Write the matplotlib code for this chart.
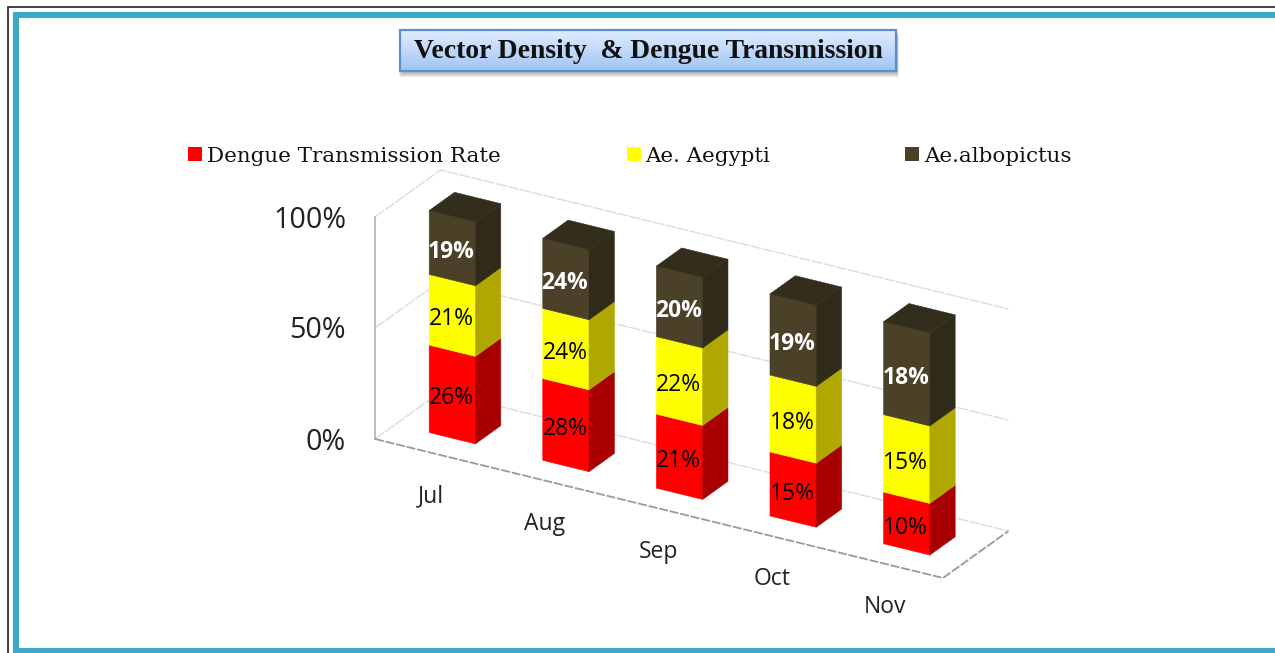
import numpy as np
import matplotlib
matplotlib.use("Agg")
import matplotlib.pyplot as plt
from matplotlib.patches import Polygon, Rectangle

# ---- data ----
months = ["Jul", "Aug", "Sep", "Oct", "Nov"]
series_names = ["Dengue Transmission Rate", "Ae. Aegypti", "Ae.albopictus"]
dengue = [26, 28, 21, 15, 10]
aegypti = [21, 24, 22, 18, 15]
albopictus = [19, 24, 20, 19, 18]
y_ticks = [0, 50, 100]
title = "Vector Density  & Dengue Transmission"

front_cols = ["#FF0000", "#FFFF00", "#4A4128"]
side_cols = ["#A80000", "#B0A800", "#2F2A1A"]
top_col = "#332E1C"
label_cols = ["black", "black", "white"]
label_weight = ["normal", "normal", "bold"]

fig = plt.figure(figsize=(12.75, 6.53), dpi=100)
ax = fig.add_axes([0, 0, 1, 1])
ax.set_xlim(0, 1275)
ax.set_ylim(653, 0)
ax.axis("off")

# oblique projection: category position, depth fraction, 0-1 stack fraction -> pixels
def proj(x, d, z):
    return (375 + x * 113.6 + d * 65.5, 439 + x * 27.8 - d * 47 - z * 222)

# ---- frame ----
ax.add_patch(Rectangle((7.5, 7), 1300, 700, fc="white", ec="#222222", lw=1.2, zorder=0))
ax.add_patch(Rectangle((16, 15), 1300, 636, fc="white", ec="#3FA9C5", lw=4.4, zorder=0.5))

# ---- walls ----
grid_col = "#DCDCDC"
for t in y_ticks:
    z = t / 100
    p = [proj(0, 0, z), proj(0, 1, z), proj(5, 1, z)]
    ax.plot(*zip(*p), color=grid_col, lw=1.0, ls=(0, (8, 1)), zorder=1)
    ax.text(346, proj(0, 0, z)[1] + 3, f"{t}%", ha="right", va="center",
            family="Open Sans", fontsize=20.6, color="#222222")
ax.plot(*zip(proj(0, 0, 0), proj(0, 0, 1)), color="#BDBDBD", lw=1.4, zorder=1)
ax.plot(*zip(proj(0, 0, 0), proj(5, 0, 0), proj(5, 1, 0)), color="#9A9A9A", lw=1.3,
        ls=(0, (5, 1)), zorder=1)

# ---- bars ----
data = np.array([dengue, aegypti, albopictus], dtype=float)
fractions = data / data.sum(axis=0)
x_w, d0, d1 = 0.407, 0.313, 0.70
for i, m in enumerate(months):
    xa = i + 0.5 - x_w / 2
    xb = xa + x_w
    base = 0.0
    for s in range(3):
        top = base + fractions[s, i]
        ax.add_patch(Polygon([proj(xa, d0, base), proj(xb, d0, base), proj(xb, d0, top), proj(xa, d0, top)],
                             fc=front_cols[s], ec=front_cols[s], lw=0.4, zorder=2))
        ax.add_patch(Polygon([proj(xb, d0, base), proj(xb, d1, base), proj(xb, d1, top), proj(xb, d0, top)],
                             fc=side_cols[s], ec=side_cols[s], lw=0.4, zorder=2))
        cx, cy = proj(i + 0.5, d0, (base + top) / 2)
        ax.text(cx - 1, cy + 4, f"{int(data[s, i])}%", ha="center", va="center",
                family="Open Sans", fontsize=16.5, color=label_cols[s],
                fontweight=label_weight[s], zorder=4)
        base = top
    ax.add_patch(Polygon([proj(xa, d0, 1), proj(xb, d0, 1), proj(xb, d1, 1), proj(xa, d1, 1)],
                         fc=top_col, ec=top_col, lw=0.4, zorder=3))
    lx, ly = proj(i + 0.5, 0, 0)
    ax.text(lx - 1, ly + 43, m, ha="center", va="center", family="Open Sans",
            fontsize=16.5, color="#222222")

# ---- title box ----
for grow, alpha in zip([4, 2.5, 1], [0.12, 0.18, 0.25]):
    ax.add_patch(Rectangle((401 - grow / 2, 34), 496 + grow, 39 + grow, fc="#707070", ec="none",
                           alpha=alpha, zorder=4))
grad = np.linspace(0, 1, 64)[:, None]
c0, c1 = np.array([0.88, 0.93, 1.0]), np.array([0.63, 0.77, 0.96])
ax.imshow(c0 + (c1 - c0) * grad[..., None], extent=(400, 896, 71, 30), aspect="auto", zorder=5)
ax.set_xlim(0, 1275)
ax.set_ylim(653, 0)
ax.add_patch(Rectangle((400, 30), 496, 41, fc="none", ec="#5F8FCB", lw=1.6, zorder=6))
ax.text(648, 52, title, ha="center", va="center", family="Liberation Serif",
        fontweight="bold", fontsize=19.9, color="#111111", zorder=7)

# ---- legend ----
for x_m, x_t, name, col in zip([188, 627, 905], [207, 645, 924], series_names, front_cols):
    ax.add_patch(Rectangle((x_m, 147), 14, 14, fc=col, ec="none", zorder=4))
    ax.text(x_t, 156, name, ha="left", va="center", family="DejaVu Serif",
            fontsize=15.4, color="#111111", zorder=4)

fig.savefig("out.png", dpi=100)
